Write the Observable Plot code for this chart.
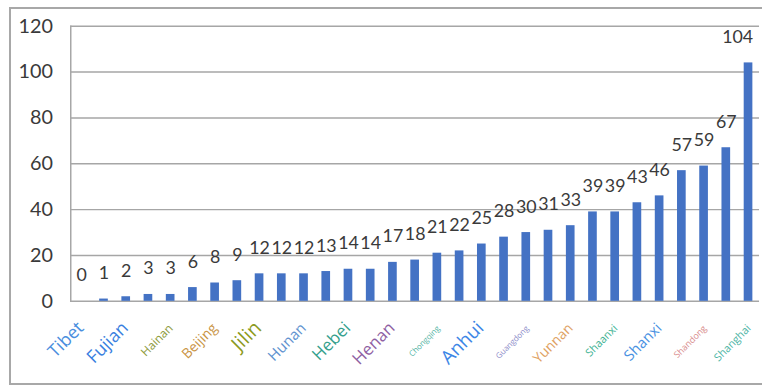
<!DOCTYPE html>
<html><head><meta charset="utf-8">
<script src="https://cdn.jsdelivr.net/npm/d3@7"></script>
<script src="https://cdn.jsdelivr.net/npm/@observablehq/plot@0.6"></script>
<style>
html,body{margin:0;padding:0;background:#fff;overflow:hidden;width:762px;height:388px}
#wrap{position:relative;width:762px;height:388px;overflow:hidden}
#border{position:absolute;left:9px;top:7px;width:800px;height:378px;border:2px solid #a8a8a8;box-sizing:border-box;pointer-events:none}
#chart{position:absolute;left:0;top:0}
</style></head><body>
<div id="wrap"><div id="chart"></div><div id="border"></div></div>
<script>
// Data
const values = [0,1,2,3,3,6,8,9,12,12,12,13,14,14,17,18,21,22,25,28,30,31,33,39,39,43,46,57,59,67,104];
const provinces = ["Tibet",null,"Fujian",null,"Hainan",null,"Beijing",null,"Jilin",null,"Hunan",null,"Hebei",null,"Henan",null,"Chongqing",null,"Anhui",null,"Guangdong",null,"Yunnan",null,"Shaanxi",null,"Shanxi",null,"Shandong",null,"Shanghai"];
const yTicks = [0,20,40,60,80,100,120];

// Styles
const labelColors = {Tibet:"#4a8ede",Fujian:"#3a7fe0",Hainan:"#8e9b3c",Beijing:"#c99445",Jilin:"#8c9a22",Hunan:"#5f93cf",Hebei:"#34a08c",Henan:"#8f5fa3",Chongqing:"#4fb3a3",Anhui:"#3c86e6",Guangdong:"#8a8ac8",Yunnan:"#e0a263",Shaanxi:"#3db292",Shanxi:"#4a92e2",Shandong:"#d88a8a",Shanghai:"#4db5a5"};
const labelSizes = {Tibet:18,Fujian:18,Hainan:12,Beijing:14,Jilin:20,Hunan:15,Hebei:17,Henan:17,Chongqing:8,Anhui:19,Guangdong:8,Yunnan:14,Shaanxi:11,Shanxi:15,Shandong:9,Shanghai:11};

const idx = (d, i) => i;
const labelMarks = Object.keys(labelColors).map(name =>
  Plot.text(provinces, {
    filter: d => d === name, x: idx, frameAnchor: "bottom", text: d => d,
    rotate: -45, textAnchor: "end", dy: 28, dx: 3, className: "prov-label",
    fill: labelColors[name], fontSize: labelSizes[name], fontFamily: "Open Sans"
  })
);
const chart = Plot.plot({
  width: 770,
  height: 388,
  marginLeft: 71,
  marginRight: 3,
  marginTop: 26,
  marginBottom: 84,
  style: {fontFamily: "Lato", background: "transparent", overflow: "visible"},
  x: {type: "band", domain: d3.range(values.length), paddingInner: 0.61, paddingOuter: 0.3, round: false, axis: null},
  y: {domain: [0, 120], axis: null},
  marks: [
    Plot.gridY(yTicks, {stroke: "#a6a6a6", strokeOpacity: 1, strokeWidth: 1.5}),
    Plot.axisY(yTicks, {tickSize: 0, tickPadding: 18, fontSize: 20, fill: "#3a3a3a", label: null}),
    Plot.frame({anchor: "left", stroke: "#a6a6a6", strokeWidth: 1.5}),
    Plot.barY(values, {x: idx, y: d => d, fill: "#4472C4"}),
    Plot.text(values, {x: idx, y: d => d, text: d => String(d), dy: -26, fontSize: 18, fill: "#3a3a3a", filter: (d, i) => i < values.length - 1}),
    Plot.text(values, {x: idx, y: d => d, text: d => String(d), dy: -26, dx: -11, fontSize: 18, fill: "#3a3a3a", filter: (d, i) => i === values.length - 1}),
    ...labelMarks
  ]
});
// Ensure the category labels are slanted
chart.querySelectorAll(".prov-label text").forEach(t => {
  const tr = t.getAttribute("transform") || "";
  if (!/rotate/.test(tr)) {
    const x = t.getAttribute("x"), y = t.getAttribute("y");
    if (x != null || y != null) {
      t.setAttribute("transform", `${tr} translate(${x || 0},${y || 0}) rotate(-45)`);
      t.removeAttribute("x"); t.removeAttribute("y");
    } else {
      t.setAttribute("transform", `${tr} rotate(-45)`);
    }
  }
});
document.getElementById("chart").appendChild(chart);
</script>
</body></html>
